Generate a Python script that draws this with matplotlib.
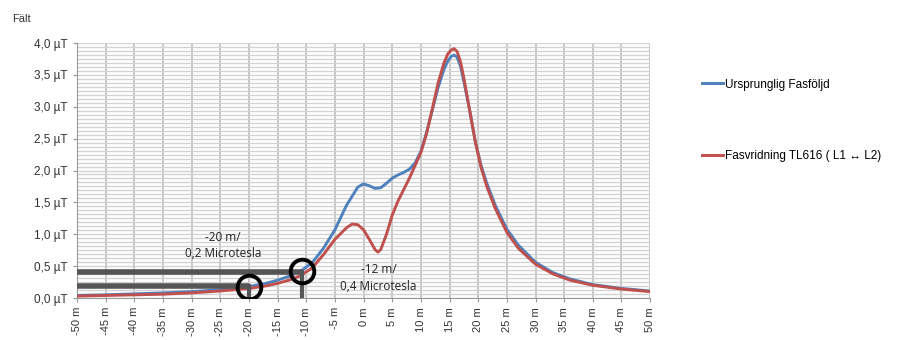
import matplotlib as mpl
import matplotlib.pyplot as plt
import numpy as np

# distans (m) och faltstyrka (uT), avlasta ur diagrammet
x_blue = [-50, -45, -40, -35, -30, -25, -20, -17, -15, -13, -11, -9, -7, -5, -3, -1,
          0, 1, 2, 3, 4, 5, 6, 7, 8, 9, 10, 11, 12, 13, 14, 14.7, 15.3, 15.8, 16.3,
          16.9, 17.5, 18.5, 19.5, 20.5, 21.5, 23, 25, 27, 30, 33, 36, 40, 45, 50]
y_blue = [0.04, 0.05, 0.065, 0.08, 0.10, 0.13, 0.18, 0.23, 0.28, 0.34, 0.42, 0.55, 0.78,
          1.07, 1.45, 1.74, 1.79, 1.76, 1.72, 1.73, 1.80, 1.88, 1.93, 1.97, 2.02, 2.12,
          2.30, 2.60, 2.95, 3.30, 3.58, 3.72, 3.79, 3.81, 3.78, 3.64, 3.40, 2.95, 2.45,
          2.08, 1.80, 1.45, 1.08, 0.83, 0.56, 0.40, 0.30, 0.21, 0.15, 0.11]

x_red = [-50, -45, -40, -35, -30, -25, -20, -17, -15, -13, -11, -9, -7, -5, -3, -2, -1,
         0, 1, 2, 2.5, 3, 4, 5, 6, 7, 8, 9, 10, 11, 12, 13, 14, 14.7, 15.3, 15.8, 16.3,
         16.9, 17.5, 18.5, 19.5, 20.5, 21.5, 23, 25, 27, 30, 33, 36, 40, 45, 50]
y_red = [0.03, 0.04, 0.05, 0.06, 0.08, 0.11, 0.15, 0.19, 0.23, 0.28, 0.35, 0.47, 0.68,
         0.92, 1.10, 1.16, 1.15, 1.07, 0.92, 0.76, 0.72, 0.76, 1.00, 1.30, 1.52, 1.70,
         1.88, 2.08, 2.28, 2.58, 2.97, 3.37, 3.68, 3.83, 3.89, 3.91, 3.87, 3.71, 3.45,
         2.95, 2.45, 2.05, 1.75, 1.40, 1.03, 0.78, 0.53, 0.38, 0.28, 0.20, 0.14, 0.10]

label_blue = 'Ursprunglig Fasföljd'
label_red = 'Fasvridning TL616 ( L1 \u2194 L2)'

x_ticks = list(range(-50, 51, 5))
x_ticklabels = [f'{v} m' for v in x_ticks]
y_ticks = [0.0, 0.5, 1.0, 1.5, 2.0, 2.5, 3.0, 3.5, 4.0]
y_ticklabels = [f'{v:.1f} µT'.replace('.', ',') for v in y_ticks]

# markerade punkter
mark_x = [-20, -10.8]
mark_y = [0.17, 0.42]
mark_text = ['-20 m/\n0,2 Microtesla', '-12 m/\n0,4 Microtesla']
text_pos = [(-24.5, 0.82), (2.6, 0.31)]

mpl.rcParams['font.family'] = ['Liberation Sans', 'DejaVu Sans']

fig = plt.figure(figsize=(9.08, 3.4), dpi=100)
ax = fig.add_axes([0.0848, 0.1235, 0.6312, 0.75])

ax.set_xlim(-50, 50)
ax.set_ylim(0, 4.0)

ax.set_yticks(np.arange(0, 4.001, 0.0625), minor=True)
ax.grid(axis='y', which='both', color='#d2d2d2', linewidth=1.0)
ax.grid(axis='x', which='major', color='#bdbdbd', linewidth=1.2)
ax.tick_params(axis='y', which='minor', length=0)
ax.set_axisbelow(True)

ax.plot(x_blue, y_blue, color='#4f81bd', linewidth=2.1, label=label_blue, zorder=3)
ax.plot(x_red, y_red, color='#c0504d', linewidth=2.1, label=label_red, zorder=3)

# markeringar
bar_col = '#555555'
ax.plot([-50, mark_x[1]], [0.41, 0.41], color=bar_col, linewidth=4, solid_capstyle='butt', zorder=4)
ax.plot([-50, mark_x[0]], [0.19, 0.19], color=bar_col, linewidth=4, solid_capstyle='butt', zorder=4)
ax.plot([mark_x[0], mark_x[0]], [0, 0.19], color=bar_col, linewidth=3, zorder=4)
ax.plot([mark_x[1], mark_x[1]], [0, 0.41], color=bar_col, linewidth=3, zorder=4)
ax.plot(mark_x, mark_y, linestyle='none', marker='o', markersize=17,
        markerfacecolor='none', markeredgecolor='black', markeredgewidth=2.8, zorder=5)

for (tx, ty), t in zip(text_pos, mark_text):
    ax.text(tx, ty, t, ha='center', va='center', fontsize=8.5, color='#222222',
            family=['Open Sans', 'DejaVu Sans'], linespacing=1.35, zorder=6)

ax.set_xticks(x_ticks)
ax.set_xticklabels(x_ticklabels, rotation=90, fontsize=8, color='#333333')
ax.set_yticks(y_ticks)
ax.set_yticklabels(y_ticklabels, fontsize=8.5, color='#333333')
ax.tick_params(axis='both', which='major', length=3, color='#999999')

for s in ['top', 'right']:
    ax.spines[s].set_visible(False)
for s in ['left', 'bottom']:
    ax.spines[s].set_color('#999999')

fig.text(0.013, 0.935, 'Fält', fontsize=8, color='#333333')

fig.legend(loc='upper left', bbox_to_anchor=(0.761, 0.8), frameon=False,
           fontsize=8.5, labelspacing=5.0, handlelength=1.8, handletextpad=0.2)

fig.savefig('out.png', dpi=100)
